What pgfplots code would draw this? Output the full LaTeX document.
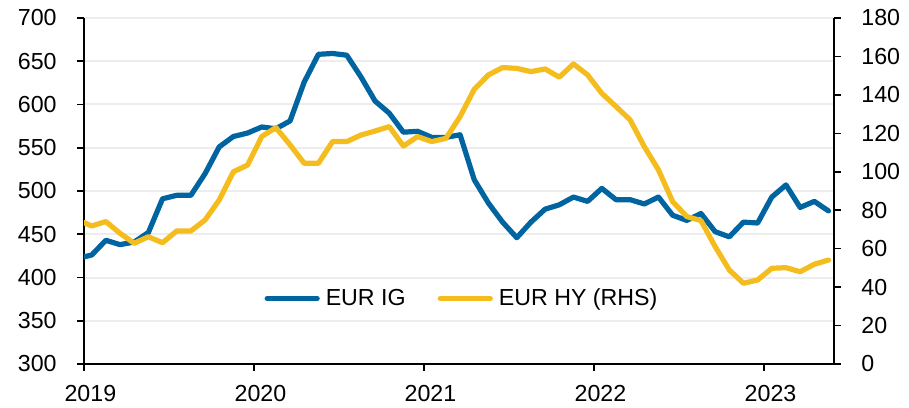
\documentclass[border=0pt]{standalone}
\usepackage{pgfplots}
\pgfplotsset{compat=1.18}
\usepackage{pgfplotstable}
\usepackage{fontspec}
\setmainfont{Liberation Sans}
\definecolor{igblue}{HTML}{0064A0}
\definecolor{hyyellow}{HTML}{F5BC1E}
\definecolor{gridgray}{HTML}{EDEDED}

\pgfplotstableread{
k IG HY
-1 422 75
0 426 71.8
1 443 74.1
2 438 68
3 441 62.8
4 452 66.2
5 491 63.1
6 495 69.2
7 495 69.2
8 520 74.9
9 551 85.3
10 563 100
11 567 103.5
12 574 118.3
13 572 123
14 581 114
15 626 104.4
16 658 104.4
17 659 115.7
18 657 115.7
19 632 119.1
20 604 121.2
21 590 123.5
22 568 113.4
23 569 118.3
24 562 115.7
25 562 117.4
26 565 128.7
27 513 142.9
28 486 150.4
29 464 154.2
30 446 153.8
31 464 152.1
32 479 153.5
33 484 149.2
34 493 156.1
35 488 150.4
36 503 140.8
37 490 134
38 490 127
39 485 113.1
40 493 101
41 472 84.5
42 466 76.7
43 474 74.6
44 453 61.1
45 447 48.9
46 464 42
47 463 43.7
48 493 49.8
49 507 50.1
50 481 48
51 488 51.9
52 477 54.1
}\spreads

\pgfplotsset{
  common/.style={
    scale only axis,
    width=375pt, height=173pt,
    xmin=-0.543, xmax=52.39,
    at={(0,0)}, anchor=south west,
    tick align=outside,
    major tick length=3.5pt,
    axis line style={black, line width=0.8pt},
    tick style={black, line width=0.8pt},
    ticklabel style={font=\fontsize{11.6}{13.9}\selectfont},
    /pgf/number format/assume math mode=true,
    /pgf/number format/1000 sep={},
  },
  serie/.style={line width=2.6pt, line join=round, line cap=round, mark=none},
}

\begin{document}
\begin{tikzpicture}
\useasboundingbox (-42pt,-21.5pt) rectangle (412.5pt,182pt);
\begin{axis}[
  common,
  axis y line*=left,
  axis x line*=bottom,
  ymin=300, ymax=700,
  ytick={300,350,...,700},
  xtick={-0.543,11.457,23.457,35.457,47.457},
  xticklabels={2019,2020,2021,2022,2023},
  ymajorgrids,
  major grid style={gridgray, line width=1pt},
  yticklabel style={inner xsep=10pt},
  xticklabel style={inner ysep=1.5pt, xshift=3.2pt, yshift=-5.5pt},
]
\addplot[serie, igblue] table[x=k, y=IG] {\spreads};
\end{axis}
\begin{axis}[
  common,
  axis y line*=right,
  axis x line=none,
  ymin=0, ymax=180,
  ytick={0,20,...,180},
  yticklabel style={inner xsep=10pt},
  legend columns=2,
  legend style={
    draw=none, fill=none,
    at={(0.504,0.189)}, anchor=center,
    font=\fontsize{11.6}{13.9}\selectfont,
    /tikz/every odd column/.append style={column sep=2pt},
    /tikz/every even column/.append style={column sep=15pt},
    nodes={inner sep=1pt},
  },
  legend image code/.code={\draw[#1] (0pt,0pt) -- (25pt,0pt);},
]
\addlegendimage{serie, igblue}
\addlegendentry{EUR IG}
\addplot[serie, hyyellow] table[x=k, y=HY] {\spreads};
\addlegendentry{EUR HY (RHS)}
\end{axis}
\end{tikzpicture}
\end{document}
